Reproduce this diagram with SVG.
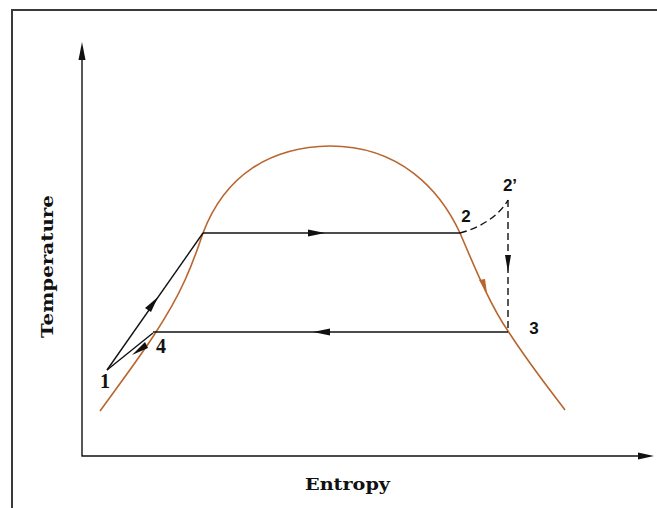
<svg xmlns="http://www.w3.org/2000/svg" width="657" height="508" viewBox="0 0 657 508">
<style>
.ln{stroke:#111;stroke-width:1.4;fill:none}
.dash{stroke:#111;stroke-width:1.4;fill:none;stroke-dasharray:7,4}
.dome{stroke:#b8652e;stroke-width:1.6;fill:none}
.ah{fill:#111}
.serif{font-family:"DejaVu Serif","Liberation Serif",serif;font-weight:bold;fill:#111}
.tserif{font-family:"Liberation Serif","DejaVu Serif",serif;font-weight:bold;fill:#111}
.sans{font-family:"Liberation Sans","DejaVu Sans",sans-serif;font-weight:bold;fill:#111}
</style>
<rect width="657" height="508" fill="#fff"/>
<path d="M12,508 V10 H657" stroke="#3a3a3a" stroke-width="2" fill="none"/>
<g id="axes">
<path class="ln" d="M82,56 V456 H644" stroke-width="1.6"/>
<polygon class="ah" points="82,42 78.5,60 85.5,60"/>
<polygon class="ah" points="654,456 638,452.5 638,459.5"/>
<text class="serif" x="305" y="490" font-size="17" textLength="85" lengthAdjust="spacingAndGlyphs">Entropy</text>
<text class="serif" x="0" y="0" font-size="17" textLength="143" lengthAdjust="spacingAndGlyphs" transform="translate(53,338) rotate(-90)">Temperature</text>
</g>
<g id="dome">
<path class="dome" d="M100,411 C128,372 165,325 185,280 C195,258 198,247 203,233 C225,175 270,147 330,146 C400,146 440,190 460,233 C475,268 490,305 508,331 C530,365 550,390 565,410"/>
<polygon points="487,293 479,280 485,279" fill="#b8652e"/>
</g>
<g id="connectors">
<line class="ln" x1="203" y1="233" x2="460" y2="233"/>
<polygon class="ah" points="325,233 308,229.5 308,236.5"/>
<line class="ln" x1="508" y1="332" x2="153" y2="332"/>
<polygon class="ah" points="313,332 330,328.5 330,335.5"/>
<line class="ln" x1="107" y1="370" x2="203" y2="233"/>
<polygon class="ah" points="158,297 145,308 151,312"/>
<line class="ln" x1="107" y1="370" x2="153" y2="333"/>
<polygon class="ah" points="132,355 145,342 148,348"/>
<path class="dash" d="M460,233 C480,228 500,215 508,200"/>
<line class="dash" x1="508" y1="200" x2="508" y2="331"/>
<polygon class="ah" points="508,272 505,255 511,255"/>
</g>
<g id="labels">
<text class="tserif" x="105" y="388" font-size="20" text-anchor="middle">1</text>
<text class="tserif" x="161" y="353" font-size="20" text-anchor="middle">4</text>
<text class="sans" x="466" y="222" font-size="17" text-anchor="middle">2</text>
<text class="sans" x="510" y="191" font-size="17" text-anchor="middle">2’</text>
<text class="sans" x="534" y="334" font-size="17" text-anchor="middle">3</text>
</g>
</svg>
